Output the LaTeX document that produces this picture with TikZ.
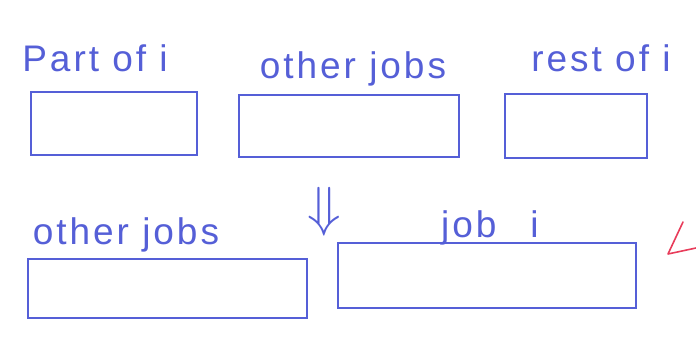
\documentclass[tikz,border=0pt]{standalone}
\usepackage{fontspec}
\setmainfont{Liberation Sans}
\newfontfamily\handfont[LetterSpace=8]{Liberation Sans}
\definecolor{pen}{RGB}{85,95,215}
\definecolor{redpen}{RGB}{232,60,90}
\begin{document}
\begin{tikzpicture}[x=1pt,y=-1pt,
  slot/.style={draw=pen,line width=1.6pt,inner sep=0pt},
  hand/.style={text=pen,font=\handfont\fontsize{37}{37}\selectfont,anchor=base,inner sep=0pt}]
\useasboundingbox (0,0) rectangle (696,339);
% boxes
\node[slot,minimum width=166pt,minimum height=63pt] (b1) at (114,123.5) {};
\node[slot,minimum width=220pt,minimum height=62pt] (b2) at (349,126) {};
\node[slot,minimum width=142pt,minimum height=64pt] (b3) at (576,126) {};
\node[slot,minimum width=279pt,minimum height=59pt] (b4) at (167.5,288.5) {};
\node[slot,minimum width=298pt,minimum height=65pt] (b5) at (487,275.5) {};
% labels
\node[hand] (t1) at (95,72) {Part of i};
\node[hand] (t2) at (353,79) {other jobs};
\node[hand] (t3) at (601,72) {rest of i};
\node[hand] (t4) at (126,244) {other jobs};
\node[hand] (t5) at (490,237) {job\hspace{34pt}i};
% arrow
\node[text=pen,inner sep=0pt,scale=5.5] (arr) at (324,212) {$\Downarrow$};
% red mark
\draw[redpen,line width=1.6pt,line cap=round,line join=round]
  (683,222) -- (668,254) -- (696,248);
\end{tikzpicture}
\end{document}
